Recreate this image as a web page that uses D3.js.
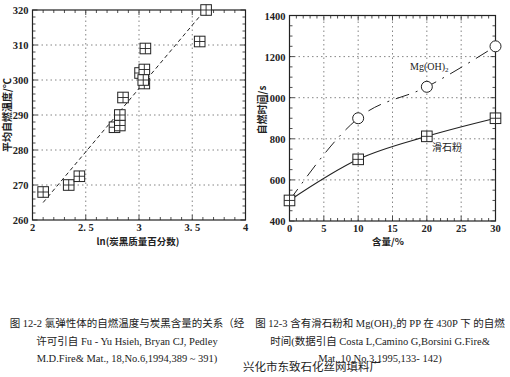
<!DOCTYPE html>
<html>
<head>
<meta charset="utf-8">
<script src="https://cdn.jsdelivr.net/npm/d3@7"></script>
<style>
  body { margin: 0; background: #fff; }
  svg { display: block; }
  text { fill: #222; }
</style>
</head>
<body>
<svg id="chart" width="510" height="377"></svg>
<script>
// left chart: autoignition temp vs ln(carbon black %)
const lnCarbon = [2.10, 2.34, 2.44, 2.77, 2.82, 2.82, 2.85, 3.01, 3.05, 3.05, 3.04, 3.06, 3.57, 3.63];
const ignTemp  = [268, 270, 272.5, 286.5, 287, 290, 295, 302, 303, 299, 300, 309, 311, 320];
const fitX = [2.1, 3.62];
const fitY = [265, 320];
const leftXTicks = [2, 2.5, 3, 3.5, 4];
const leftYTicks = [260, 270, 280, 290, 300, 310, 320];

// right chart: ignition time vs filler content
const content  = [0, 10, 20, 30];
const talcTime = [500, 700, 812, 900];
const mgohTime = [500, 900, 1053, 1250];
const rightXTicks = [0, 5, 10, 15, 20, 25, 30];
const rightYTicks = [400, 600, 800, 1000, 1200, 1400];

const svg = d3.select('#chart');
const numFont = '"Liberation Serif", serif';
const cjkFont = '"Noto Sans CJK SC", sans-serif';

// draws the frame, grid, minor/major ticks on all sides
function drawFrame(g, x, y, xMinor, yMinor, xTicks, yTicks, fmtX) {
  const [x0, x1] = x.range();
  const [y0, y1] = y.range();

  // dotted grid
  g.selectAll('.gx').data(xTicks.slice(1, -1)).join('line')
    .attr('x1', d => x(d)).attr('x2', d => x(d)).attr('y1', y0).attr('y2', y1)
    .attr('stroke', '#666').attr('stroke-width', 0.8).attr('stroke-dasharray', '1.5,3');
  g.selectAll('.gy').data(yTicks.slice(1, -1)).join('line')
    .attr('y1', d => y(d)).attr('y2', d => y(d)).attr('x1', x0).attr('x2', x1)
    .attr('stroke', '#666').attr('stroke-width', 0.8).attr('stroke-dasharray', '1.5,3');

  // minor ticks
  const tk = g.append('g').attr('stroke', '#222').attr('stroke-width', 0.8);
  xMinor.forEach(v => {
    const len = xTicks.includes(v) ? 5 : 3;
    tk.append('line').attr('x1', x(v)).attr('x2', x(v)).attr('y1', y0).attr('y2', y0 - len);
    tk.append('line').attr('x1', x(v)).attr('x2', x(v)).attr('y1', y1).attr('y2', y1 + len);
  });
  yMinor.forEach(v => {
    const len = yTicks.includes(v) ? 5 : 3;
    tk.append('line').attr('y1', y(v)).attr('y2', y(v)).attr('x1', x0).attr('x2', x0 + len);
    tk.append('line').attr('y1', y(v)).attr('y2', y(v)).attr('x1', x1).attr('x2', x1 - len);
  });

  g.append('rect')
    .attr('x', x0).attr('y', y1).attr('width', x1 - x0).attr('height', y0 - y1)
    .attr('fill', 'none').attr('stroke', '#222').attr('stroke-width', 1.2);

  // tick labels
  g.selectAll('.xl').data(xTicks).join('text')
    .attr('x', d => x(d)).attr('y', y0 + 11)
    .attr('text-anchor', 'middle')
    .attr('font-family', numFont).attr('font-size', 10.5).attr('font-weight', 'bold')
    .text(fmtX);
  g.selectAll('.yl').data(yTicks).join('text')
    .attr('x', x0 - 4).attr('y', d => y(d) + 4)
    .attr('text-anchor', 'end')
    .attr('font-family', numFont).attr('font-size', 10.5).attr('font-weight', 'bold')
    .text(d => d);
}

function squareMark(g, cx, cy) {
  const s = 5.3;
  g.append('rect').attr('x', cx - s).attr('y', cy - s).attr('width', 2 * s).attr('height', 2 * s)
    .attr('fill', '#fff').attr('stroke', '#222').attr('stroke-width', 1);
  g.append('path').attr('d', `M${cx - s},${cy}H${cx + s}M${cx},${cy - s}V${cy + s}`)
    .attr('stroke', '#222').attr('stroke-width', 0.9);
}

// ---------------- left chart ----------------
const xL = d3.scaleLinear().domain([2, 4]).range([32.5, 245.5]);
const yL = d3.scaleLinear().domain([260, 320]).range([220, 10]);
const gL = svg.append('g');
drawFrame(gL, xL, yL, d3.range(2, 4.001, 0.1).map(v => +v.toFixed(1)), d3.range(260, 321, 2),
  leftXTicks, leftYTicks, d => d === 2 || d === 3 || d === 4 ? d : d.toFixed(1).replace('.', '. '));

gL.append('path')
  .attr('d', d3.line().x(d => xL(d[0])).y(d => yL(d[1]))(d3.zip(fitX, fitY)))
  .attr('fill', 'none').attr('stroke', '#222').attr('stroke-width', 1)
  .attr('stroke-dasharray', '4,3');

lnCarbon.forEach((v, i) => squareMark(gL, xL(v), yL(ignTemp[i])));

gL.append('text')
  .attr('transform', 'translate(11,115) rotate(-90)')
  .attr('text-anchor', 'middle')
  .attr('font-family', cjkFont).attr('font-size', 10).attr('font-weight', 'bold')
  .text('平均自燃温度/℃');
gL.append('text')
  .attr('x', 138).attr('y', 245)
  .attr('text-anchor', 'middle')
  .attr('font-family', cjkFont).attr('font-size', 9.5).attr('font-weight', 'bold')
  .text('ln(炭黑质量百分数)');

// ---------------- right chart ----------------
const xR = d3.scaleLinear().domain([0, 30]).range([289.5, 495.5]);
const yR = d3.scaleLinear().domain([400, 1400]).range([221, 15.5]);
const gR = svg.append('g');
drawFrame(gR, xR, yR, d3.range(0, 31, 1), d3.range(400, 1401, 50),
  rightXTicks, rightYTicks, d => d);

const curve = d3.line().x(d => xR(d[0])).y(d => yR(d[1])).curve(d3.curveMonotoneX);

gR.append('path')
  .attr('d', curve(d3.zip(content, mgohTime)))
  .attr('fill', 'none').attr('stroke', '#222').attr('stroke-width', 1)
  .attr('stroke-dasharray', '14,7,2,7');
gR.append('path')
  .attr('d', curve(d3.zip(content, talcTime)))
  .attr('fill', 'none').attr('stroke', '#222').attr('stroke-width', 1.1);

content.slice(1).forEach((v, i) => {
  gR.append('circle').attr('cx', xR(v)).attr('cy', yR(mgohTime[i + 1])).attr('r', 5.5)
    .attr('fill', '#fff').attr('stroke', '#222').attr('stroke-width', 1);
});
content.forEach((v, i) => squareMark(gR, xR(v), yR(talcTime[i])));

gR.append('text')
  .attr('x', 410).attr('y', 70)
  .attr('font-family', numFont).attr('font-size', 10)
  .html('Mg(OH)<tspan font-size="7" dy="2">2</tspan>');
gR.append('text')
  .attr('x', 432).attr('y', 151)
  .attr('font-family', cjkFont).attr('font-size', 10)
  .text('滑石粉');

gR.append('text')
  .attr('transform', 'translate(266,110) rotate(-90)')
  .attr('text-anchor', 'middle')
  .attr('font-family', cjkFont).attr('font-size', 10).attr('font-weight', 'bold')
  .text('自燃时间/s');
gR.append('text')
  .attr('x', 388).attr('y', 245)
  .attr('text-anchor', 'middle')
  .attr('font-family', cjkFont).attr('font-size', 9.5).attr('font-weight', 'bold')
  .text('含量/%');

// ---------------- captions ----------------
const capLeft = [
  '图 12-2 氯弹性体的自燃温度与炭黑含量的关系（经',
  '许可引自  Fu - Yu Hsieh, Bryan CJ, Pedley',
  'M.D.Fire& Mat., 18,No.6,1994,389 ~ 391)'
];
const capRight = [
  '图 12-3 含有滑石粉和 Mg(OH)₂的 PP 在 430P 下 的自燃',
  '时间(数据引自 Costa L,Camino G,Borsini G.Fire&',
  'Mat.,10,No.3,1995,133- 142)'
];
const capY = [327, 345, 362];

svg.selectAll('.capL').data(capLeft).join('text')
  .attr('x', 127).attr('y', (d, i) => capY[i])
  .attr('text-anchor', 'middle')
  .attr('font-family', '"Liberation Serif", "Noto Sans CJK SC", serif').attr('font-size', 10.5)
  .text(d => d);
svg.selectAll('.capR').data(capRight).join('text')
  .attr('x', 380).attr('y', (d, i) => capY[i])
  .attr('text-anchor', 'middle')
  .attr('font-family', '"Liberation Serif", "Noto Sans CJK SC", serif').attr('font-size', 10.5)
  .text(d => d);

// watermark
svg.append('text')
  .attr('x', 243).attr('y', 371)
  .attr('font-family', cjkFont).attr('font-size', 11.5)
  .attr('fill', '#000')
  .text('兴化市东致石化丝网填料厂');
</script>
</body>
</html>
